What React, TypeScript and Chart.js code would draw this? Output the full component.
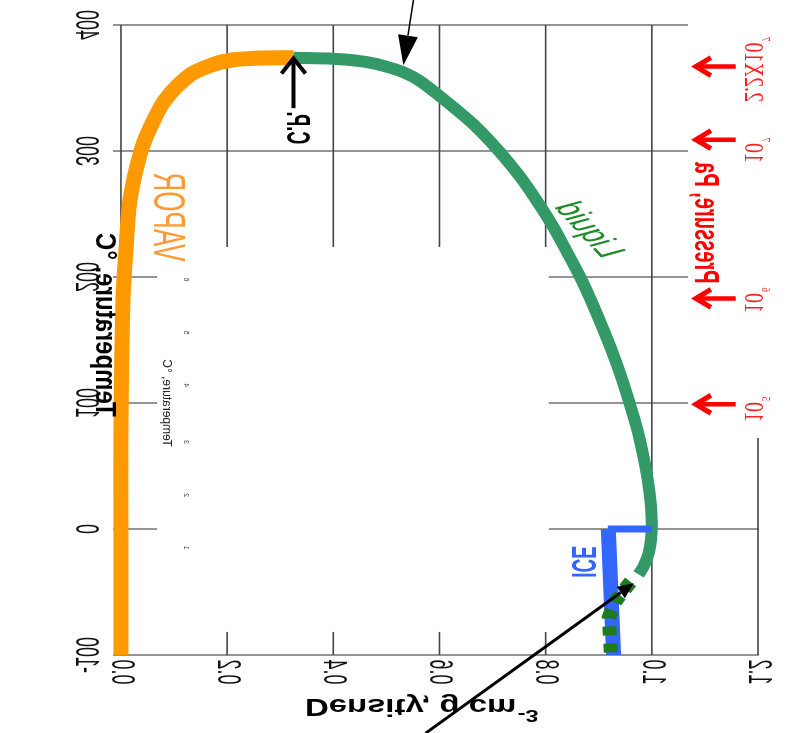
import { useEffect, useRef } from 'react';
import { Chart, registerables } from 'chart.js';
Chart.register(...registerables);

// ---- axis ticks ----
const densityTicks = [0, 0.2, 0.4, 0.6, 0.8, 1.0, 1.2];
const densityTickLabels = ['0.0', '0.2', '0.4', '0.6', '0.8', '1.0', '1.2'];
const tempTicks = [-100, 0, 100, 200, 300, 400];
const tempTickLabels = ['-100', '0', '100', '200', '300', '400'];

// ---- series (density g/cm3 vs temperature C) ----
const vaporTemp = [-100, 0, 78.6, 181.7, 221.4, 261.1, 300, 319.8, 340.5, 360.3, 368.3, 372.2, 373.8, 374];
const vaporDensity = [0.0, 0.0, 0.0, 0.0038, 0.0094, 0.017, 0.0377, 0.0565, 0.083, 0.13, 0.171, 0.209, 0.262, 0.325];

const liquidTemp = [374, 373.25, 372.2, 370.5, 367.3, 362.7, 355.6, 340, 320, 300, 280, 260, 240, 220, 200, 180, 160, 140, 120, 100, 80, 60, 40, 20, 4, 0, -10, -20, -30, -36];
const liquidDensity = [0.325, 0.3993, 0.4313, 0.4633, 0.4972, 0.5311, 0.5631, 0.611, 0.667, 0.712, 0.751, 0.784, 0.814, 0.84, 0.865, 0.887, 0.907, 0.926, 0.943, 0.958, 0.972, 0.983, 0.992, 0.998, 1.0, 0.9998, 0.998, 0.9935, 0.984, 0.975];

const meltTemp = [0, 0];
const meltDensity = [0.917, 1.0];

const iceTemp = [0, -20, -40, -60, -80, -100];
const iceDensity = [0.918, 0.92, 0.922, 0.924, 0.926, 0.928];

const supercooledTemp = [-42, -57, -70, -85, -100];
const supercooledDensity = [0.96, 0.932, 0.919, 0.921, 0.923];

// ---- annotations ----
const pressureArrowTemps = [99, 183, 309, 367];
const pressureBase = ['10', '10', '10', '2.2X10'];
const pressureExp = ['5', '6', '7', '7'];
const pressureLabelTemps = [85, 171.4, 290.5, 338.9];
const insetTickLabels = ['1', '2', '3', '4', '5', '6'];
const insetTickTemps = [-15, 27, 69, 114, 156, 198];

const toXY = (xs: number[], ys: number[]) => xs.map((x, i) => ({ x, y: ys[i] }));

const SANS = '"Liberation Sans", Arial, sans-serif';
const SERIF = '"Liberation Serif", "Times New Roman", serif';

function vText(ctx: CanvasRenderingContext2D, text: string, x: number, y: number, o: any) {
  const { font, color, stretch = 1, rot = 0, align = 'center', baseline = 'middle' } = o;
  ctx.save();
  ctx.translate(x, y);
  ctx.transform(0, -1, -stretch, 0, 0, 0);
  if (rot) ctx.rotate(rot);
  ctx.font = font;
  ctx.fillStyle = color;
  ctx.textAlign = align;
  ctx.textBaseline = baseline;
  ctx.fillText(text, 0, 0);
  ctx.restore();
}

function vTextSup(ctx: CanvasRenderingContext2D, base: string, sup: string, x: number, y: number, o: any) {
  const { font, supFont, color, stretch = 1, rot = 0, raise = 10, baseline = 'alphabetic' } = o;
  ctx.save();
  ctx.translate(x, y);
  ctx.transform(0, -1, -stretch, 0, 0, 0);
  if (rot) ctx.rotate(rot);
  ctx.fillStyle = color;
  ctx.textAlign = 'left';
  ctx.textBaseline = baseline;
  ctx.font = font;
  ctx.fillText(base, 0, 0);
  const w = ctx.measureText(base).width;
  ctx.font = supFont;
  ctx.fillText(sup, w + 1, -raise);
  ctx.restore();
}

function line(ctx: CanvasRenderingContext2D, x1: number, y1: number, x2: number, y2: number, w: number, c: string) {
  ctx.save();
  ctx.strokeStyle = c;
  ctx.lineWidth = w;
  ctx.beginPath();
  ctx.moveTo(x1, y1);
  ctx.lineTo(x2, y2);
  ctx.stroke();
  ctx.restore();
}

function filledArrow(ctx: CanvasRenderingContext2D, x1: number, y1: number, x2: number, y2: number, w: number, len: number, half: number, c: string) {
  const a = Math.atan2(y2 - y1, x2 - x1);
  const bx = x2 - Math.cos(a) * len;
  const by = y2 - Math.sin(a) * len;
  line(ctx, x1, y1, bx, by, w, c);
  ctx.save();
  ctx.fillStyle = c;
  ctx.beginPath();
  ctx.moveTo(x2, y2);
  ctx.lineTo(bx + Math.sin(a) * half, by - Math.cos(a) * half);
  ctx.lineTo(bx - Math.sin(a) * half, by + Math.cos(a) * half);
  ctx.closePath();
  ctx.fill();
  ctx.restore();
}

function chevronArrow(ctx: CanvasRenderingContext2D, x1: number, y1: number, x2: number, y2: number, w: number, len: number, half: number, c: string, hw: number) {
  const a = Math.atan2(y2 - y1, x2 - x1);
  const tx = x2 - Math.cos(a) * 2;
  const ty = y2 - Math.sin(a) * 2;
  line(ctx, x1, y1, tx, ty, w, c);
  const bx = x2 - Math.cos(a) * len;
  const by = y2 - Math.sin(a) * len;
  ctx.save();
  ctx.strokeStyle = c;
  ctx.lineWidth = hw;
  ctx.lineJoin = 'miter';
  ctx.beginPath();
  ctx.moveTo(bx + Math.sin(a) * half, by - Math.cos(a) * half);
  ctx.lineTo(x2, y2);
  ctx.lineTo(bx - Math.sin(a) * half, by + Math.cos(a) * half);
  ctx.stroke();
  ctx.restore();
}

const gridPlugin = {
  id: 'gridWithMasks',
  beforeDatasetsDraw(chart: any) {
    const { ctx, chartArea: ca, scales } = chart;
    const X = (v: number) => scales.x.getPixelForValue(v);
    const Y = (v: number) => scales.y.getPixelForValue(v);
    ctx.save();
    tempTicks.forEach((t) => line(ctx, ca.left, Y(t), ca.right + 1, Y(t), 1.2, '#2a2a2a'));
    densityTicks.forEach((d) => line(ctx, X(d), ca.top, X(d), ca.bottom, 1.6, '#444'));
    ctx.fillStyle = '#ffffff';
    // white masks (pasted inset and pressure panel)
    ctx.fillRect(X(0.068), Y(223.8), X(0.806) - X(0.068), Y(-81.7) - Y(223.8));
    ctx.fillRect(X(1.068), 0, chart.width - X(1.068), Y(72.2));
    ctx.restore();
  },
  afterDatasetsDraw(chart: any) {
    const { ctx, scales } = chart;
    const X = (v: number) => scales.x.getPixelForValue(v);
    const Y = (v: number) => scales.y.getPixelForValue(v);

    // tick labels
    tempTicks.forEach((t, i) =>
      vText(ctx, tempTickLabels[i], X(-0.068), Y(t), { font: `18px ${SANS}`, color: '#111', stretch: 1.85 })
    );
    densityTicks.forEach((d, i) =>
      vText(ctx, densityTickLabels[i], X(d), Y(-113.5), { font: `18px ${SANS}`, color: '#111', stretch: 1.85 })
    );

    // axis titles
    vText(ctx, 'Temperature, °C', X(-0.032), Y(162), { font: `bold 24px ${SANS}`, color: '#000', stretch: 1.2 });
    vTextSup(ctx, 'Density, g cm', '-3', X(0.3466), Y(-140.5), {
      font: `bold 24px ${SANS}`, supFont: `bold 17px ${SANS}`, color: '#000', stretch: 1.37, rot: -Math.PI / 2, raise: 9, baseline: 'middle',
    });

    // inset remnants
    vText(ctx, 'Temperature, °C', X(0.0848), Y(100), { font: `12px ${SANS}`, color: '#222', stretch: 1 });
    insetTickTemps.forEach((t, i) =>
      vText(ctx, insetTickLabels[i], X(0.1224), Y(t), { font: `7px ${SANS}`, color: '#444', stretch: 1 })
    );

    // phase labels
    vText(ctx, 'VAPOR', X(0.0848), Y(247.6), { font: `26px ${SANS}`, color: '#ff9933', stretch: 1.7 });
    vText(ctx, 'Liquid', X(0.8796), Y(237.3), { font: `22px ${SANS}`, color: '#1f8a2a', stretch: 1.85, rot: 0.47 });
    vText(ctx, 'ICE', X(0.8665), Y(-26.2), { font: `bold 19px ${SANS}`, color: '#3366ff', stretch: 1.8 });

    // critical point arrow + label
    chevronArrow(ctx, X(0.325), Y(334), X(0.325), Y(373.5), 4, 15, 12, '#000', 4);
    vText(ctx, 'C.P.', X(0.3296), Y(318.3), { font: `bold 18px ${SANS}`, color: '#000', stretch: 1.8 });

    // pointer arrows
    filledArrow(ctx, X(0.551), Y(420), X(0.532), Y(368), 1.5, 30, 10, '#000');
    filledArrow(ctx, X(0.574), Y(-162), X(0.966), Y(-43), 3, 16, 7, '#000');

    // pressure annotations
    vText(ctx, 'Pressure, Pa', X(1.1), Y(242.9), { font: `bold 20px ${SANS}`, color: '#ff0000', stretch: 1.75 });
    pressureArrowTemps.forEach((t) => chevronArrow(ctx, X(1.158), Y(t), X(1.083), Y(t), 4.5, 15, 9, '#ff0000', 5));
    pressureLabelTemps.forEach((t, i) =>
      vTextSup(ctx, pressureBase[i], pressureExp[i], X(1.1754), Y(t), {
        font: `20px ${SERIF}`, supFont: `9px ${SERIF}`, color: '#ff2020', stretch: 1.35, raise: 13,
      })
    );
  },
};

export default function App() {
  const ref = useRef<HTMLCanvasElement>(null);
  useEffect(() => {
    document.body.style.margin = '0';
    const chart = new Chart(ref.current as HTMLCanvasElement, {
      type: 'scatter',
      data: {
        datasets: [
          { data: toXY(supercooledDensity, supercooledTemp), showLine: true, borderColor: '#1e7b1e', borderWidth: 14, borderDash: [9, 8], pointRadius: 0, order: 1, clip: 0 } as any,
          { data: toXY(meltDensity, meltTemp), showLine: true, borderColor: '#3366ff', borderWidth: 7, pointRadius: 0, order: 2, clip: 0 } as any,
          { data: toXY(iceDensity, iceTemp), showLine: true, borderColor: '#3366ff', borderWidth: 15, pointRadius: 0, order: 3, clip: 0 } as any,
          { data: toXY(liquidDensity, liquidTemp), showLine: true, borderColor: '#339966', borderWidth: 12, pointRadius: 0, tension: 0.3, order: 4, clip: 0 } as any,
          { data: toXY(vaporDensity, vaporTemp), showLine: true, borderColor: '#ff9900', borderWidth: 15, pointRadius: 0, tension: 0.3, order: 5, clip: 0 } as any,
        ],
      },
      options: {
        animation: false,
        responsive: false,
        devicePixelRatio: 1,
        layout: { padding: { left: 113, right: 31, top: 25, bottom: 78 } },
        scales: {
          x: { type: 'linear', min: -0.015, max: 1.2, display: false },
          y: { type: 'linear', min: -100, max: 400, display: false },
        },
        plugins: { legend: { display: false }, tooltip: { enabled: false } },
      },
      plugins: [gridPlugin],
    });
    return () => chart.destroy();
  }, []);
  return <canvas ref={ref} width={789} height={733} style={{ display: 'block' }} />;
}
